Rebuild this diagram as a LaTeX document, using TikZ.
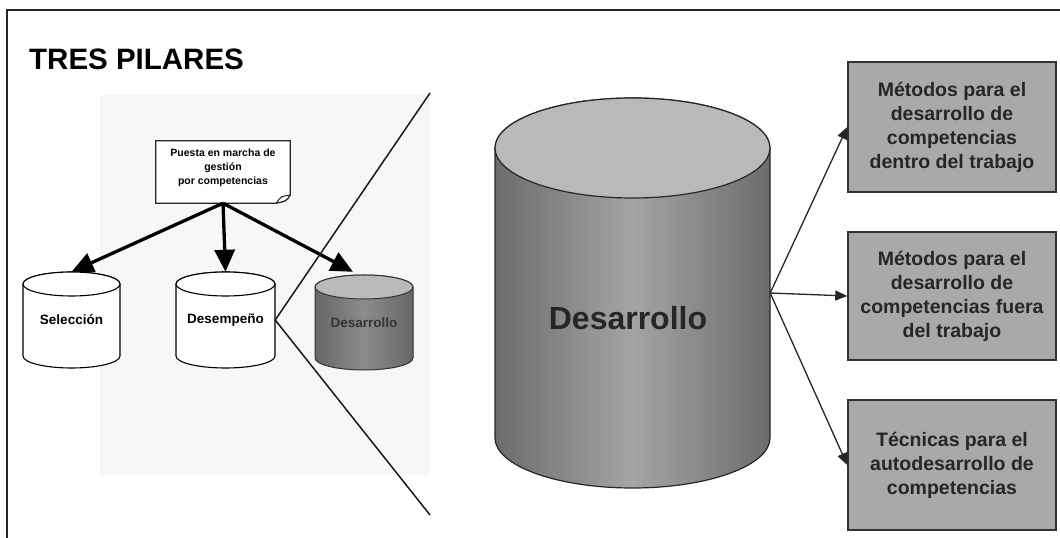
\documentclass[tikz,border=0pt]{standalone}
\usepackage{fontspec}
\setmainfont{Liberation Sans}
\usetikzlibrary{arrows.meta,calc}

\definecolor{boxgray}{HTML}{A9A9A9}
\definecolor{topgray}{HTML}{B9B9B9}
\definecolor{bodydark}{HTML}{6C6C6C}
\definecolor{bodylight}{HTML}{A4A4A4}
\definecolor{smalldark}{HTML}{666666}
\definecolor{smalllight}{HTML}{8C8C8C}
\definecolor{paper}{HTML}{F7F7F7}

% cylinder: #1 centre x, #2 top y, #3 width, #4 height, #5 end radius, #6 body style, #7 top style
\newcommand{\drum}[7]{%
  \path[#6] ({#1-#3/2},{#2-#5}) -- ({#1-#3/2},{#2-#4+#5})
    arc[start angle=180,end angle=360,x radius={(#3)/2*1pt},y radius={(#5)*1pt}]
    -- ({#1+#3/2},{#2-#5})
    arc[start angle=0,end angle=180,x radius={(#3)/2*1pt},y radius={(#5)*1pt}] -- cycle;
  \path[#7] (#1,{#2-#5}) ellipse[x radius={(#3)/2*1pt},y radius={(#5)*1pt}];
}

\tikzset{
  frameline/.style={line width=1.3pt,black!85},
  drumlabel/.style={inner sep=0pt,font=\bfseries\fontsize{13.5}{16}\selectfont},
  notetext/.style={inner sep=0pt,align=center,font=\bfseries\fontsize{10.5}{14}\selectfont},
  noteline/.style={line width=1.3pt,black!85,fill=white},
  fatarrow/.style={line width=3.3pt,-{Triangle[length=22pt,width=20pt]}},
  cutline/.style={line width=1.5pt,black!90},
  thinarrow/.style={line width=1.3pt,black!85,-{Triangle[length=12pt,width=10pt]}},
  methodbox/.style={draw=black!80,line width=1.5pt,fill=boxgray,align=center,
    minimum width=208pt,inner sep=0pt,
    font=\bfseries\fontsize{19.5}{24}\selectfont,text=black!85},
  whitebody/.style={fill=white,draw=black,line width=1.1pt},
}

\begin{document}
\begin{tikzpicture}[x=1pt,y=1pt]
\useasboundingbox (0,0) rectangle (1060,538);
\fill[white] (0,0) rectangle (1060,538);

% page frame
\draw[frameline] (1060,528) -- (7,528) -- (7,0);

% title
\node[anchor=base west,inner sep=0pt,font=\bfseries\fontsize{29.5}{32}\selectfont] (title) at (29,468) {TRES PILARES};

% pasted picture area
\fill[paper] (100,63) rectangle (430,443);

% the three pillars
\drum{71.5}{266}{97}{96}{12}{whitebody}{whitebody}
\node[drumlabel,minimum width=97pt,minimum height=96pt] (sel) at (71.5,218) {Selección};
\drum{225.5}{266}{99}{96}{12}{whitebody}{whitebody}
\node[drumlabel,minimum width=99pt,minimum height=96pt] (dem) at (225.5,218) {Desempeño};
\drum{364}{263}{98}{95}{12}{left color=smalldark,right color=smalldark,middle color=smalllight,draw=black!80,line width=1pt}{fill=topgray,draw=black!80,line width=1pt}
\node[drumlabel,minimum width=98pt,minimum height=95pt,text=black!80] (des) at (364,215.5) {Desarrollo};

% note
\node[notetext,minimum width=134pt,minimum height=62pt] (note) at (223,366) {};
\draw[noteline] (note.north west) -- (note.north east) -- ([yshift=8pt]note.south east)
  .. controls ([xshift=-4pt,yshift=2pt]note.south east) .. ([xshift=-14pt]note.south east)
  -- (note.south west) -- cycle;
\draw[line width=1pt,black!85] ([xshift=-14pt]note.south east) .. controls ([xshift=-9pt,yshift=7pt]note.south east) .. ([yshift=8pt]note.south east);
\node[notetext] (notelabel) at (223,370) {Puesta en marcha de\\gestión\\por competencias};

% arrows from the note
\draw[fatarrow] (note.south) -- (sel.north);
\draw[fatarrow] (note.south) -- (dem.north);
\draw[fatarrow] (note.south) -- ([xshift=-11pt,yshift=3pt]des.north);

% zoom lines
\coordinate (zoomtop) at (430,445);
\coordinate (zoombot) at (430,23);
\draw[cutline] (zoomtop) -- (dem.east) -- (zoombot);

% large cylinder
\drum{632.5}{440}{275}{390}{50}{left color=bodydark,right color=bodydark,middle color=bodylight,draw=black!85,line width=1.2pt}{fill=topgray,draw=black!85,line width=1.2pt}
\node[inner sep=0pt,minimum width=275pt,minimum height=390pt] (big) at (632.5,245) {};
\node[inner sep=0pt,font=\bfseries\fontsize{32}{34}\selectfont,text=black!85] (bigtext) at (628,220) {Desarrollo};

% method boxes
\node[methodbox,minimum height=130pt] (m1) at (952,411) {Métodos para el\\desarrollo de\\competencias\\dentro del trabajo};
\node[methodbox,minimum height=128pt] (m2) at (952,242) {Métodos para el\\desarrollo de\\competencias fuera\\del trabajo};
\node[methodbox,minimum height=130pt] (m3) at (952,73) {Técnicas para el\\autodesarrollo de\\competencias};

\draw[thinarrow] (big.east) -- (m1.west);
\draw[thinarrow] (big.east) -- (m2.west);
\draw[thinarrow] (big.east) -- (m3.west);
\end{tikzpicture}
\end{document}
